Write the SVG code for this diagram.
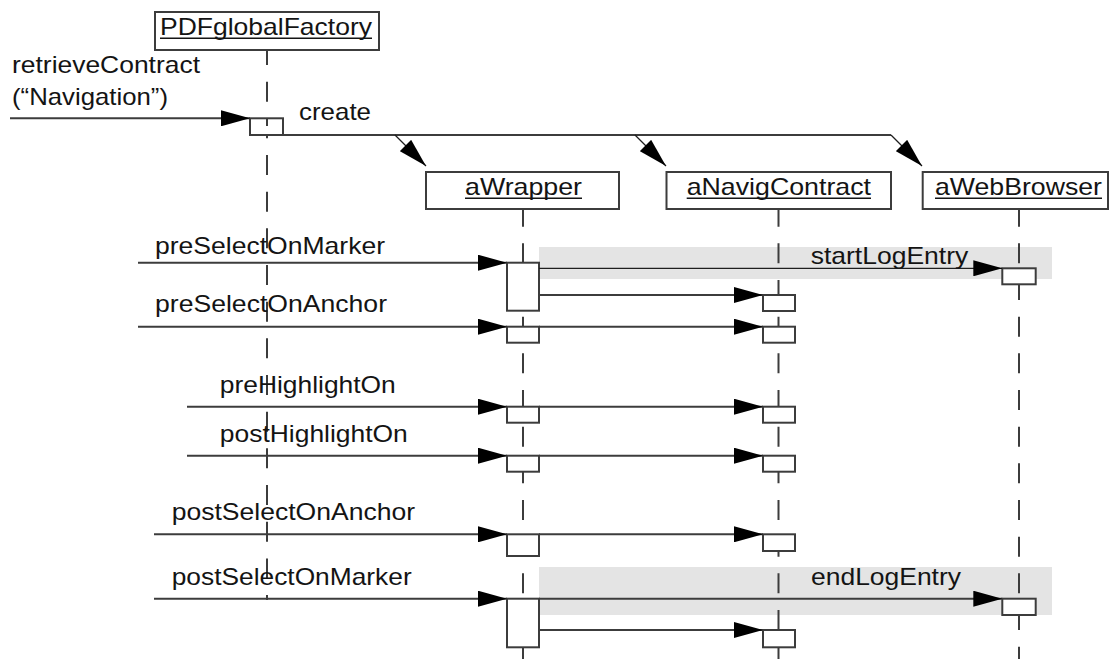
<svg xmlns="http://www.w3.org/2000/svg" width="1110" height="659" viewBox="0 0 1110 659">
  <style>
    text { font-family: "Liberation Sans", Arial, Helvetica, sans-serif; font-size: 24px; fill: #141414; }
    .box { fill: #ffffff; stroke: #3c3c3c; stroke-width: 2; }
    .act { fill: #ffffff; stroke: #3c3c3c; stroke-width: 2; }
    .life { stroke: #3c3c3c; stroke-width: 2; stroke-dasharray: 20 16.67; fill: none; }
    .msg { stroke: #3c3c3c; stroke-width: 2; fill: none; marker-end: url(#head); }
    .thin { stroke: #1e1e1e; stroke-width: 1.3; fill: none; marker-end: url(#head); }
    .plain { stroke: #3c3c3c; stroke-width: 2; fill: none; }
    .uline { stroke: #141414; stroke-width: 1.5; }
    .band { fill: #e4e4e4; }
  </style>
  <defs>
    <marker id="head" markerUnits="userSpaceOnUse" markerWidth="30" markerHeight="16" refX="29" refY="8" orient="auto">
      <path d="M0,0 L29,8 L0,16 Z" fill="#000"/>
    </marker>
  </defs>

  <!-- shaded logging bands -->
  <rect class="band" x="539" y="247" width="513" height="32"/>
  <rect class="band" x="539" y="567" width="513" height="48"/>

  <!-- PDFglobalFactory -->
  <g id="PDFglobalFactory">
    <line class="life" x1="267" y1="50" x2="267" y2="600" stroke-dashoffset="5"/>
    <rect class="box" x="155" y="12" width="224" height="38"/>
    <text x="160" y="34.5" textLength="212" lengthAdjust="spacingAndGlyphs">PDFglobalFactory</text>
    <line class="uline" x1="160" y1="38.3" x2="372" y2="38.3"/>
    <rect class="act" x="250" y="118.3" width="33" height="16.7"/>
    <line class="plain" x1="267" y1="118.3" x2="267" y2="126"/>
  </g>

  <!-- aWrapper -->
  <g id="aWrapper">
    <line class="life" x1="523" y1="209" x2="523" y2="659" stroke-dashoffset="2.33"/>
    <rect class="box" x="426" y="172" width="193" height="37"/>
    <text x="465" y="195" textLength="117" lengthAdjust="spacingAndGlyphs">aWrapper</text>
    <line class="uline" x1="465" y1="198.3" x2="582" y2="198.3"/>
    <rect class="act" x="507" y="262.7" width="32" height="48"/>
    <rect class="act" x="507" y="326.7" width="32" height="16"/>
    <rect class="act" x="507" y="406.7" width="32" height="16"/>
    <rect class="act" x="507" y="455.7" width="32" height="16"/>
    <rect class="act" x="507" y="534.3" width="32" height="21.7"/>
    <rect class="act" x="507" y="598.7" width="32" height="48.6"/>
  </g>

  <!-- aNavigContract -->
  <g id="aNavigContract">
    <line class="life" x1="778.5" y1="209" x2="778.5" y2="659" stroke-dashoffset="2.33"/>
    <rect class="box" x="666.5" y="172" width="224.5" height="37"/>
    <text x="686.7" y="195" textLength="184.3" lengthAdjust="spacingAndGlyphs">aNavigContract</text>
    <line class="uline" x1="686.7" y1="198.3" x2="871" y2="198.3"/>
    <rect class="act" x="763" y="295" width="32" height="16"/>
    <rect class="act" x="763" y="326.7" width="32" height="16"/>
    <rect class="act" x="763" y="406.7" width="32" height="16"/>
    <rect class="act" x="763" y="455.7" width="32" height="16"/>
    <rect class="act" x="763" y="534.3" width="32" height="16.7"/>
    <rect class="act" x="763" y="630" width="32" height="17.3"/>
  </g>

  <!-- aWebBrowser -->
  <g id="aWebBrowser">
    <line class="life" x1="1019" y1="209" x2="1019" y2="659" stroke-dashoffset="2.33"/>
    <rect class="box" x="922.7" y="172" width="185.3" height="37"/>
    <text x="935" y="195" textLength="167" lengthAdjust="spacingAndGlyphs">aWebBrowser</text>
    <line class="uline" x1="935" y1="198.3" x2="1102" y2="198.3"/>
    <rect class="act" x="1002.3" y="268.3" width="33.4" height="16"/>
    <rect class="act" x="1002.3" y="598.7" width="33.4" height="16.3"/>
  </g>

  <!-- messages -->
  <g id="connectors">
    <!-- retrieveContract("Navigation") -->
    <line class="msg" x1="10" y1="118.3" x2="250" y2="118.3"/>
    <text x="12" y="73" textLength="188" lengthAdjust="spacingAndGlyphs">retrieveContract</text>
    <text x="12" y="105" textLength="156" lengthAdjust="spacingAndGlyphs">(“Navigation”)</text>

    <!-- create -->
    <polyline class="plain" points="283,135 891,135"/>
    <line class="thin" x1="395" y1="135" x2="426" y2="166"/>
    <line class="thin" x1="635" y1="135" x2="666" y2="166"/>
    <line class="thin" x1="891" y1="135" x2="922" y2="166"/>
    <text x="299" y="120" textLength="72" lengthAdjust="spacingAndGlyphs">create</text>

    <!-- preSelectOnMarker -->
    <line class="msg" x1="138" y1="262.7" x2="507" y2="262.7"/>
    <text x="155" y="254" textLength="230" lengthAdjust="spacingAndGlyphs">preSelectOnMarker</text>
    <line class="thin" x1="539" y1="268.3" x2="1002.3" y2="268.3" stroke-width="1.6"/>
    <text x="810.7" y="264" textLength="157.6" lengthAdjust="spacingAndGlyphs">startLogEntry</text>
    <line class="msg" x1="539" y1="295" x2="763" y2="295"/>

    <!-- preSelectOnAnchor -->
    <line class="msg" x1="138" y1="326.7" x2="507" y2="326.7"/>
    <text x="155" y="311.7" textLength="232" lengthAdjust="spacingAndGlyphs">preSelectOnAnchor</text>
    <line class="msg" x1="539" y1="326.7" x2="763" y2="326.7"/>

    <!-- preHighlightOn -->
    <line class="msg" x1="187" y1="406.7" x2="507" y2="406.7"/>
    <text x="219.8" y="393.3" textLength="176" lengthAdjust="spacingAndGlyphs">preHighlightOn</text>
    <line class="msg" x1="539" y1="406.7" x2="763" y2="406.7"/>

    <!-- postHighlightOn -->
    <line class="msg" x1="187" y1="455.7" x2="507" y2="455.7"/>
    <text x="219.8" y="441.7" textLength="188" lengthAdjust="spacingAndGlyphs">postHighlightOn</text>
    <line class="msg" x1="539" y1="455.7" x2="763" y2="455.7"/>

    <!-- postSelectOnAnchor -->
    <line class="msg" x1="154" y1="534.3" x2="507" y2="534.3"/>
    <text x="171.7" y="520" textLength="243.3" lengthAdjust="spacingAndGlyphs">postSelectOnAnchor</text>
    <line class="msg" x1="539" y1="534.3" x2="763" y2="534.3"/>

    <!-- postSelectOnMarker -->
    <line class="msg" x1="154" y1="598.7" x2="507" y2="598.7"/>
    <text x="171.7" y="585" textLength="240" lengthAdjust="spacingAndGlyphs">postSelectOnMarker</text>
    <line class="msg" x1="539" y1="598.7" x2="1002.3" y2="598.7"/>
    <text x="811" y="585" textLength="150" lengthAdjust="spacingAndGlyphs">endLogEntry</text>
    <line class="msg" x1="539" y1="630" x2="763" y2="630"/>
  </g>
</svg>
